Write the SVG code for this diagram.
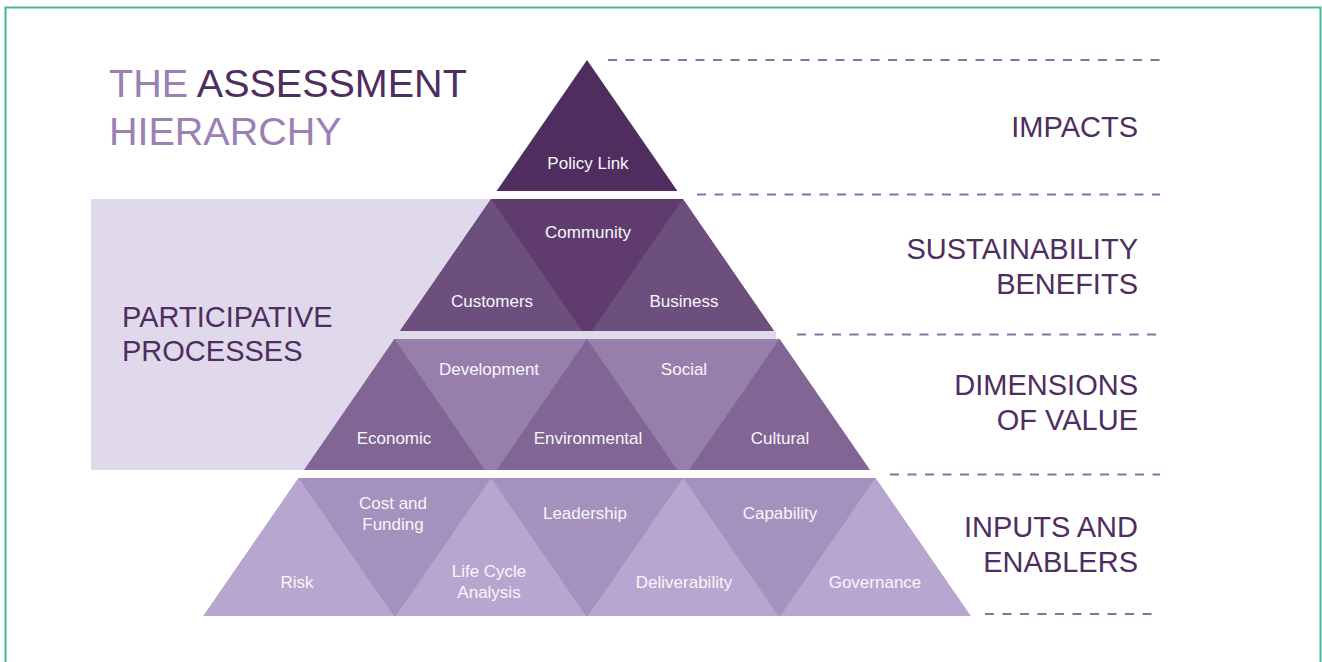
<svg xmlns="http://www.w3.org/2000/svg" width="1322" height="662" viewBox="0 0 1322 662">
  <style>
    .frame { fill: none; stroke: #45b89a; stroke-width: 2; }
    .guide { stroke: #8c6ea3; stroke-width: 2; stroke-dasharray: 9 8.5; fill: none; }
    .lbl { font-family: "Liberation Sans", Arial, sans-serif; font-size: 17px; fill: #f8f6fa; text-anchor: middle; }
    .tier { font-family: "Liberation Sans", Arial, sans-serif; font-size: 29px; fill: #4e2d5f; text-anchor: end; }
    .side { font-family: "Liberation Sans", Arial, sans-serif; font-size: 29px; fill: #4e2d5f; }
    .title { font-family: "Liberation Sans", Arial, sans-serif; font-size: 39.5px; }
    .band { fill: #e0d9eb; }
    .l1 { fill: #4f2d5f; }
    .l2a { fill: #6d4f7e; }
    .l2b { fill: #5f3b6e; }
    .l3a { fill: #806595; }
    .l3b { fill: #967fab; }
    .l4a { fill: #b8a6d0; }
    .l4b { fill: #a591be; }
  </style>

  <rect width="1322" height="662" fill="#ffffff"/>
  <!-- outer frame, open at the bottom -->
  <rect class="frame" x="5.5" y="7.5" width="1315" height="700"/>

  <!-- title -->
  <g id="title">
    <text class="title" x="109" y="97"><tspan fill="#9a80b3">THE </tspan><tspan fill="#4e2d5f">ASSESSMENT</tspan></text>
    <text class="title" x="109" y="145" fill="#9a80b3">HIERARCHY</text>
  </g>

  <!-- participative processes band, tucked behind the left side of the pyramid -->
  <g id="participative">
    <rect class="band" x="91" y="199" width="420" height="271"/>
    <rect class="band" x="400" y="331" width="376" height="8"/>
    <text class="side" x="122" y="327">PARTICIPATIVE</text>
    <text class="side" x="122" y="361">PROCESSES</text>
  </g>

  <!-- tier guide lines -->
  <g id="connectors">
    <line class="guide" x1="608" y1="60" x2="1160" y2="60"/>
    <line class="guide" x1="697" y1="194.5" x2="1160" y2="194.5"/>
    <line class="guide" x1="797" y1="334.5" x2="1160" y2="334.5"/>
    <line class="guide" x1="890" y1="474.5" x2="1160" y2="474.5"/>
    <line class="guide" x1="985" y1="614" x2="1160" y2="614"/>
  </g>

  <!-- tier 1: impacts -->
  <g id="policy-link">
    <polygon class="l1" points="587,60 677.4,191 496.6,191"/>
    <text class="lbl" x="588" y="169">Policy Link</text>
  </g>

  <!-- tier 2: sustainability benefits -->
  <g id="community">
    <polygon class="l2b" points="491.1,199 682.9,199 774,331 400,331"/>
    <text class="lbl" x="588" y="238">Community</text>
  </g>
  <g id="customers">
    <polygon class="l2a" points="491.1,199 582.2,331 400,331"/>
    <text class="lbl" x="492" y="307">Customers</text>
  </g>
  <g id="business">
    <polygon class="l2a" points="682.9,199 774,331 591.8,331"/>
    <text class="lbl" x="684" y="307">Business</text>
  </g>

  <!-- tier 3: dimensions of value -->
  <g id="tier3-band">
    <polygon class="l3b" points="394.5,339 779.5,339 869.9,470 304.1,470"/>
  </g>
  <g id="development">
    <text class="lbl" x="489" y="375">Development</text>
  </g>
  <g id="social">
    <text class="lbl" x="684" y="375">Social</text>
  </g>
  <g id="economic">
    <polygon class="l3a" points="394.5,339 484.9,470 304.1,470"/>
    <text class="lbl" x="394" y="444">Economic</text>
  </g>
  <g id="environmental">
    <polygon class="l3a" points="587,339 677.4,470 496.6,470"/>
    <text class="lbl" x="588" y="444">Environmental</text>
  </g>
  <g id="cultural">
    <polygon class="l3a" points="779.5,339 869.9,470 689.1,470"/>
    <text class="lbl" x="780" y="444">Cultural</text>
  </g>

  <!-- tier 4: inputs and enablers -->
  <g id="tier4-band">
    <polygon class="l4b" points="298.6,478 875.4,478 970.6,616 203.4,616"/>
  </g>
  <g id="cost-and-funding">
    <text class="lbl" x="393" y="509">Cost and</text>
    <text class="lbl" x="393" y="530">Funding</text>
  </g>
  <g id="leadership">
    <text class="lbl" x="585" y="519">Leadership</text>
  </g>
  <g id="capability">
    <text class="lbl" x="780" y="519">Capability</text>
  </g>
  <g id="risk">
    <polygon class="l4a" points="298.6,478 393.8,616 203.4,616"/>
    <text class="lbl" x="297" y="588">Risk</text>
  </g>
  <g id="life-cycle-analysis">
    <polygon class="l4a" points="490.9,478 586.1,616 395.7,616"/>
    <text class="lbl" x="489" y="577">Life Cycle</text>
    <text class="lbl" x="489" y="598">Analysis</text>
  </g>
  <g id="deliverability">
    <polygon class="l4a" points="683.1,478 778.3,616 587.9,616"/>
    <text class="lbl" x="684" y="588">Deliverability</text>
  </g>
  <g id="governance">
    <polygon class="l4a" points="875.4,478 970.6,616 780.2,616"/>
    <text class="lbl" x="875" y="588">Governance</text>
  </g>

  <!-- tier names -->
  <g id="tier-labels">
    <text class="tier" x="1138" y="137">IMPACTS</text>
    <text class="tier" x="1138" y="259">SUSTAINABILITY</text>
    <text class="tier" x="1138" y="294">BENEFITS</text>
    <text class="tier" x="1138" y="395">DIMENSIONS</text>
    <text class="tier" x="1138" y="430">OF VALUE</text>
    <text class="tier" x="1138" y="537">INPUTS AND</text>
    <text class="tier" x="1138" y="572">ENABLERS</text>
  </g>
</svg>
